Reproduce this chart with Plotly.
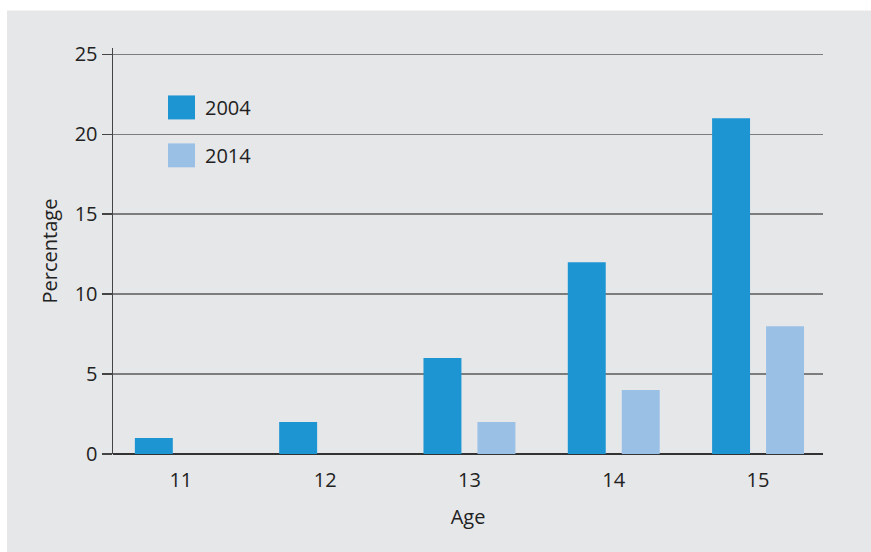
import plotly.graph_objects as go

ages = [11, 12, 13, 14, 15]
age_labels = ["11", "12", "13", "14", "15"]
pct_2004 = [1, 2, 6, 12, 21]
pct_2014 = [0, 0, 2, 4, 8]
series_names = ["2004", "2014"]
y_ticks = [0, 5, 10, 15, 20, 25]

c2004 = "#1d95d3"
c2014 = "#9ac0e6"
bg = "#e6e7e9"
font_family = "Open Sans, Noto Sans, sans-serif"

bar_w = 0.263
half_gap = 0.187

fig = go.Figure()
fig.add_trace(go.Bar(x=ages, y=pct_2004, name=series_names[0], marker_color=c2004,
                     marker_line_width=0, width=bar_w, offset=-half_gap - bar_w / 2,
                     showlegend=False, hoverinfo="skip"))
fig.add_trace(go.Bar(x=ages, y=pct_2014, name=series_names[1], marker_color=c2014,
                     marker_line_width=0, width=bar_w, offset=half_gap - bar_w / 2,
                     showlegend=False, hoverinfo="skip"))

W, H = 871, 552
L, R, T, B = 113, 48, 47.5, 98
pw = W - L - R
ph = H - T - B

def px(x):
    return (x - L) / pw

def py(y):
    return (H - B - y) / ph

shapes = [
    dict(type="rect", xref="paper", yref="paper", x0=-0.5, x1=1.5, y0=py(10), y1=py(-5),
         fillcolor="white", line_width=0, layer="below"),
    dict(type="rect", xref="paper", yref="paper", x0=px(-5), x1=px(7), y0=-0.5, y1=1.5,
         fillcolor="white", line_width=0, layer="below"),
]
annotations = []
legend_items = [(series_names[0], c2004, 95), (series_names[1], c2014, 143)]
for name, col, top in legend_items:
    shapes.append(dict(type="rect", xref="paper", yref="paper", x0=px(168), x1=px(195),
                       y0=py(top + 24), y1=py(top), fillcolor=col, line_width=0, layer="above"))
    annotations.append(dict(xref="paper", yref="paper", x=px(203), y=py(top + 12), text=name,
                            showarrow=False, xanchor="left", yanchor="middle",
                            font=dict(size=20, color="#222", family=font_family)))

fig.update_layout(
    width=W, height=H,
    margin=dict(l=L, r=R, t=T, b=B, pad=0),
    paper_bgcolor=bg,
    plot_bgcolor="rgba(0,0,0,0)",
    barmode="overlay",
    hovermode=False,
    font=dict(family=font_family, size=20, color="#222"),
    shapes=shapes,
    annotations=annotations,
    xaxis=dict(
        range=[10.53, 15.45], tickvals=ages, ticktext=age_labels,
        showgrid=False, zeroline=False, showline=False, ticks="",
        ticklabelstandoff=12,
        title=dict(text="Age", standoff=17, font=dict(size=20)),
    ),
    yaxis=dict(
        range=[0, 25.4], tickvals=y_ticks,
        showgrid=True, gridcolor="#7d7d7d", gridwidth=1.5,
        zeroline=True, zerolinecolor="#333", zerolinewidth=2,
        showline=True, linecolor="#444", linewidth=1.5,
        ticks="outside", ticklen=10, tickcolor="#444", tickwidth=1.5,
        ticklabelstandoff=0,
        title=dict(text="Percentage", standoff=11, font=dict(size=20)),
    ),
)

fig.write_html(
    "out.html",
    config={"displayModeBar": False, "staticPlot": True},
    post_script=(
        "document.documentElement.style.overflow='hidden';"
        "document.documentElement.style.background='" + bg + "';"
        "document.body.style.margin='0';"
        "document.body.style.overflow='hidden';"
        "document.body.style.background='" + bg + "';"
    ),
)
